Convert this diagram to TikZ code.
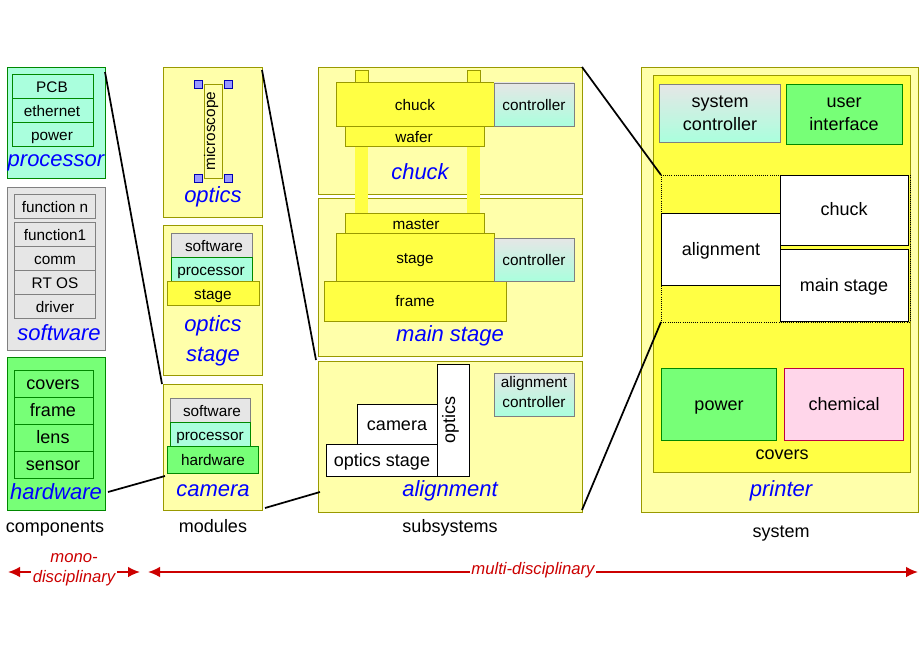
\documentclass[tikz,border=0pt]{standalone}
\usepackage{fontspec}
\setmainfont{Liberation Sans}
\usetikzlibrary{positioning,arrows.meta}
\definecolor{ly}{HTML}{FFFFAA}
\definecolor{yy}{HTML}{FFFF44}
\definecolor{ol}{HTML}{999900}
\definecolor{mint}{HTML}{AAFFDD}
\definecolor{gr}{HTML}{77FF77}
\definecolor{dg}{HTML}{008800}
\definecolor{lg}{HTML}{E6E6E6}
\definecolor{pk}{HTML}{FFD6EA}
\definecolor{dr}{HTML}{CC0000}
\begin{document}
\begin{tikzpicture}[x=0.75pt,y=-0.75pt,
  bx/.style={draw=ol,fill=ly,line width=0.6pt},
  yb/.style={draw=ol,fill=yy,line width=0.6pt},
  mb/.style={draw=dg,fill=mint,line width=0.6pt},
  gb/.style={draw=dg,fill=gr,line width=0.6pt},
  sb/.style={draw=gray,fill=lg,line width=0.6pt},
  wb/.style={draw=black,fill=white,line width=0.6pt},
  cb/.style={draw=gray,top color=lg,bottom color=mint,line width=0.6pt},
  t/.style={font=\fontsize{11.5}{13}\selectfont,inner sep=0pt,text height=1.5ex,text depth=.3ex,yshift=-1.5pt},
  tm/.style={font=\fontsize{13.5}{15}\selectfont,inner sep=0pt,text height=1.5ex,text depth=.3ex,yshift=-1.5pt},
  lab/.style={font=\fontsize{16.5}{20}\selectfont\itshape,text=blue,inner sep=0pt,text height=1.5ex,text depth=.3ex,yshift=-2pt},
  capt/.style={font=\fontsize{13.5}{15}\selectfont,inner sep=0pt,text height=1.5ex,text depth=.3ex,yshift=-1.5pt},
  con/.style={line width=1.3pt}]
\useasboundingbox (0,0) rectangle (920,660);
% components
\draw[mb] (7,67) rectangle (105,178);
\foreach \a/\b/\s in {74/98/PCB,98/122/ethernet,122/146/power}
 {\draw[mb] (12,\a) rectangle (93,\b); \node[t] at (52,{(\a+\b)/2}) {\s};}
\node[lab] (procl) at (56,160) {processor};
\draw[sb] (7,187) rectangle (105,350);
\draw[sb] (14,194) rectangle (95,218); \node[t] at (55,206) {function n};
\foreach \a/\b/\s in {222/246/function1,246/270/comm,270/294/RT OS,294/318/driver}
 {\draw[sb] (14,\a) rectangle (95,\b); \node[t] at (55,{(\a+\b)/2}) {\s};}
\node[lab] at (59,334) {software};
\draw[gb] (7,357) rectangle (105,510);
\foreach \a/\b/\s in {370/397/covers,397/424/frame,424/451/lens,451/478/sensor}
 {\draw[gb] (14,\a) rectangle (93,\b); \node[tm] at (53,{(\a+\b)/2}) {\s};}
\node[lab] at (56,493) {hardware};
\node[capt] at (55,526) {components};
% modules
\draw[bx] (163,67) rectangle (262,217);
\draw[bx] (204,84) rectangle (222,178);
\node[t,rotate=90,xshift=1.5pt,yshift=1.5pt] at (213,131) {microscope};
\foreach \p in {(198,84),(228,84),(198,178),(228,178)}
 \draw[draw=blue!70!black,fill=blue!40!white] \p +(-4,-4) rectangle +(4,4);
\node[lab] at (213,196) {optics};
\draw[bx] (163,225) rectangle (262,375);
\draw[sb] (171,233) rectangle (252,257); \node[t] at (214,245) {software};
\draw[mb] (171,257) rectangle (252,281); \node[t] at (211,269) {processor};
\draw[yb] (167,281) rectangle (259,305); \node[t] at (213,293) {stage};
\node[lab] at (213,325) {optics};
\node[lab] at (213,355) {stage};
\draw[bx] (163,384) rectangle (262,510);
\draw[sb] (170,398) rectangle (250,422); \node[t] at (212,410) {software};
\draw[mb] (170,422) rectangle (250,446); \node[t] at (210,434) {processor};
\draw[gb] (167,446) rectangle (258,473); \node[t] at (213,459) {hardware};
\node[lab] at (213,490) {camera};
\node[capt] at (213,526) {modules};
% subsystems
\draw[bx] (318,67) rectangle (582,194);
\draw[bx] (318,198) rectangle (582,356);
\draw[bx] (318,361) rectangle (582,512);
\fill[yy] (355,70) rectangle (368,213); \fill[yy] (467,70) rectangle (480,213);
\draw[ol,line width=0.4pt] (355,82)--(355,70)--(368,70)--(368,82) (467,82)--(467,70)--(480,70)--(480,82);
\draw[yb] (336,82) rectangle (494,126); \node[t] at (415,104) {chuck};
\draw[yb] (345,126) rectangle (484,146); \node[t] at (414,136) {wafer};
\draw[cb] (494,83) rectangle (574,126); \node[t] at (534,104) {controller};
\node[lab] at (420,173) {chuck};
\draw[yb] (345,213) rectangle (484,233); \node[t] at (416,223) {master};
\draw[yb] (336,233) rectangle (494,281); \node[t] at (415,257) {stage};
\draw[yb] (324,281) rectangle (506,321); \node[t] at (415,300) {frame};
\draw[cb] (494,238) rectangle (574,281); \node[t] at (534,259) {controller};
\node[lab] at (450,335) {main stage};
\draw[wb] (326,444) rectangle (437,476); \node[tm] at (382,460) {optics stage};
\draw[wb] (357,404) rectangle (437,444); \node[tm] at (397,424) {camera};
\draw[wb] (437,364) rectangle (469,476); \node[tm,rotate=90,xshift=1.5pt,yshift=1.5pt] at (453,420) {optics};
\draw[cb] (494,373) rectangle (574,416);
\node[align=center,font=\fontsize{11.5}{15}\selectfont,inner sep=0pt] at (534,392) {alignment\\controller};
\node[lab] at (450,490) {alignment};
\node[capt] at (450,526) {subsystems};
% system
\draw[bx] (641,67) rectangle (918,512);
\draw[yb] (653,75) rectangle (910,472);
\draw[cb] (659,84) rectangle (780,142);
\node[align=center,font=\fontsize{13.5}{17}\selectfont,inner sep=0pt] at (720,113) {system\\controller};
\draw[gb] (786,84) rectangle (902,144);
\node[align=center,font=\fontsize{13.5}{17}\selectfont,inner sep=0pt] at (844,114) {user\\interface};
\draw[densely dotted,line width=0.6pt] (661,175) rectangle (910,322);
\draw[wb] (661,213) rectangle (780,285); \node[tm] at (721,249) {alignment};
\draw[wb] (780,175) rectangle (908,245); \node[tm] at (844,209) {chuck};
\draw[wb] (780,249) rectangle (908,321); \node[tm] at (844,285) {main stage};
\draw[gb] (661,368) rectangle (776,440); \node[tm] at (719,404) {power};
\draw[draw=purple,fill=pk,line width=0.6pt] (784,368) rectangle (903,440); \node[tm] at (844,404) {chemical};
\node[tm] at (782,453) {covers};
\node[lab] at (781,490) {printer};
\node[capt] at (781,531) {system};
% connectors
\coordinate (c1a) at (105,72); \coordinate (c1b) at (162,384);
\coordinate (c2a) at (262,70); \coordinate (c2b) at (316,360);
\coordinate (c3a) at (108,492); \coordinate (c3b) at (165,476);
\coordinate (c4a) at (265,508); \coordinate (c4b) at (320,492);
\coordinate (c5a) at (582,67); \coordinate (c5b) at (661,175);
\coordinate (c6a) at (582,510); \coordinate (c6b) at (661,322);
\foreach \i in {1,...,6} \draw[con] (c\i a)--(c\i b);
% arrows
\coordinate (a1) at (8,572); \coordinate (a2) at (140,572);
\coordinate (a3) at (148,572); \coordinate (a4) at (918,572);
\draw[dr,line width=1.3pt,{Latex[length=9pt,width=8pt]}-{Latex[length=9pt,width=8pt]}] (a1)--(a2);
\draw[dr,line width=1.3pt,{Latex[length=9pt,width=8pt]}-{Latex[length=9pt,width=8pt]}] (a3)--(a4);
\node[font=\fontsize{12.5}{15}\selectfont\itshape,text=dr,align=center,inner sep=1pt,fill=white] at (74,570) {mono-\\disciplinary};
\node[font=\fontsize{12.5}{15}\selectfont\itshape,text=dr,inner sep=1pt,fill=white] at (533,570) {multi-disciplinary};
\end{tikzpicture}
\end{document}
